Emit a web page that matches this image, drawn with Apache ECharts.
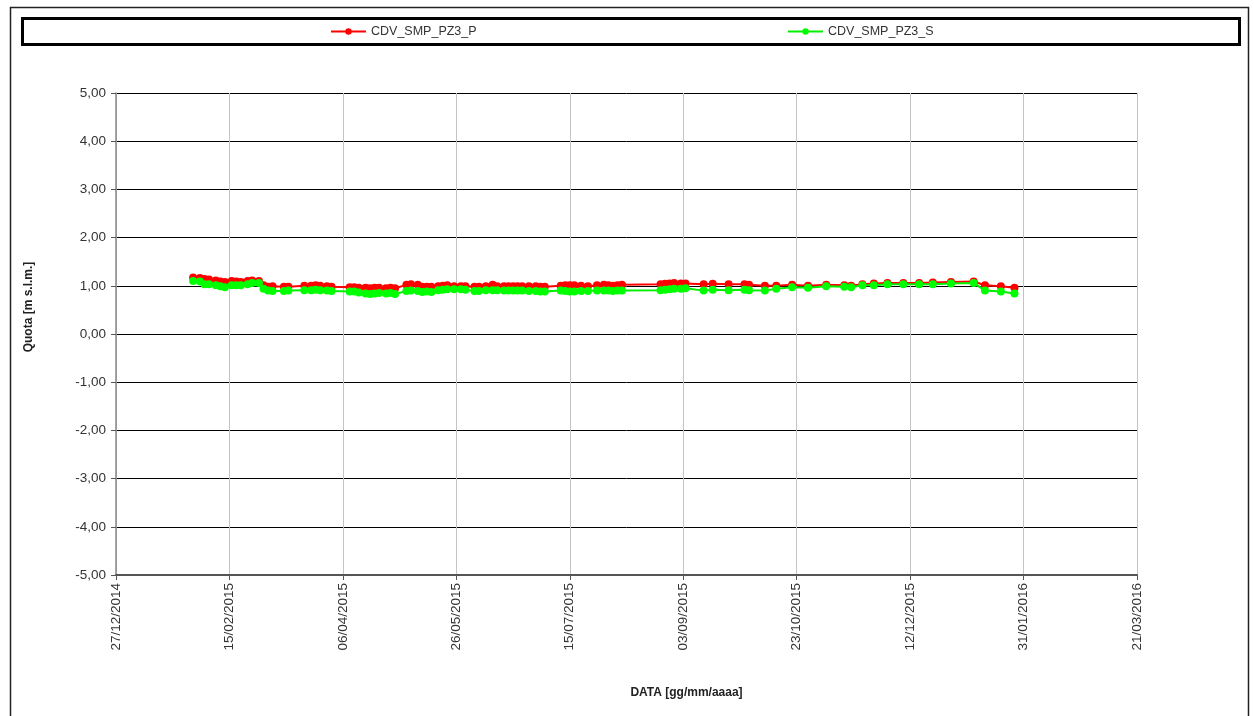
<!DOCTYPE html>
<html>
<head>
<meta charset="utf-8">
<script src="https://cdn.jsdelivr.net/npm/echarts@6/dist/echarts.min.js"></script>
<style>
html,body{margin:0;padding:0;background:#fff;}
#chart{width:1254px;height:716px;}
</style>
</head>
<body>
<div id="chart"></div>
<script>
// ---- Data ----
const seriesNames = ["CDV_SMP_PZ3_P", "CDV_SMP_PZ3_S"];
const dates = [
"2015-01-30","2015-02-02","2015-02-04","2015-02-06","2015-02-09","2015-02-11","2015-02-13","2015-02-16","2015-02-18","2015-02-20",
"2015-02-23","2015-02-25","2015-02-28","2015-03-02","2015-03-04","2015-03-06","2015-03-11","2015-03-13","2015-03-20","2015-03-23",
"2015-03-25","2015-03-27","2015-03-30","2015-04-01","2015-04-09","2015-04-11","2015-04-13","2015-04-16","2015-04-18","2015-04-20",
"2015-04-22","2015-04-25","2015-04-27","2015-04-29","2015-05-04","2015-05-06","2015-05-09","2015-05-11","2015-05-13","2015-05-15",
"2015-05-18","2015-05-20","2015-05-22","2015-05-25","2015-05-28","2015-05-30","2015-06-03","2015-06-05","2015-06-08","2015-06-11",
"2015-06-13","2015-06-16","2015-06-18","2015-06-20","2015-06-22","2015-06-24","2015-06-27","2015-06-30","2015-07-02","2015-07-04",
"2015-07-11","2015-07-13","2015-07-15","2015-07-17","2015-07-20","2015-07-23","2015-07-27","2015-07-30","2015-08-01","2015-08-03",
"2015-08-05","2015-08-07","2015-08-24","2015-08-26","2015-08-28","2015-08-30","2015-09-02","2015-09-04","2015-09-12","2015-09-16",
"2015-09-23","2015-09-30","2015-10-02","2015-10-09","2015-10-14","2015-10-21","2015-10-28","2015-11-05","2015-11-13","2015-11-16",
"2015-11-21","2015-11-26","2015-12-02","2015-12-09","2015-12-16","2015-12-22","2015-12-30","2016-01-09","2016-01-14","2016-01-21",
"2016-01-27"
];
const valuesP = [
1.17,1.16,1.14,1.13,1.11,1.09,1.08,1.10,1.09,1.08,
1.10,1.11,1.10,1.01,0.98,0.99,0.98,0.98,1.00,1.00,
1.01,1.00,0.99,0.98,0.97,0.97,0.96,0.96,0.95,0.96,
0.96,0.95,0.96,0.95,1.02,1.03,1.02,0.98,0.98,0.98,
0.99,1.00,1.01,0.99,0.99,0.99,0.98,0.98,0.99,1.02,
0.99,0.99,0.99,0.99,0.99,0.99,0.99,0.99,0.98,0.98,
1.00,1.01,1.01,1.01,1.00,0.99,1.01,1.02,1.01,1.00,
1.01,1.02,1.03,1.04,1.05,1.06,1.05,1.05,1.03,1.04,
1.03,1.03,1.02,1.00,1.00,1.02,1.00,1.02,1.01,1.00,
1.03,1.05,1.06,1.06,1.06,1.07,1.08,1.09,1.01,0.99,
0.96
];
const valuesS = [
1.10,1.09,1.03,1.03,1.01,0.99,0.97,1.01,1.01,1.01,
1.03,1.06,1.06,0.94,0.90,0.89,0.89,0.90,0.91,0.91,
0.92,0.91,0.90,0.89,0.88,0.88,0.86,0.84,0.83,0.84,
0.85,0.84,0.85,0.83,0.89,0.90,0.89,0.87,0.88,0.87,
0.91,0.92,0.93,0.93,0.93,0.92,0.89,0.89,0.91,0.91,
0.91,0.90,0.90,0.90,0.90,0.90,0.89,0.89,0.88,0.88,
0.90,0.89,0.88,0.88,0.89,0.89,0.90,0.90,0.90,0.89,
0.90,0.90,0.91,0.92,0.93,0.94,0.94,0.95,0.90,0.92,
0.91,0.92,0.91,0.90,0.94,0.97,0.96,0.99,0.98,0.97,
1.01,1.01,1.03,1.03,1.03,1.03,1.05,1.06,0.90,0.88,
0.84
];
// X axis: days counted from the first tick date, ticks every 50 days
const axisStartDate = "2014-12-27";
const xTickDays = 50;
const xMaxDays = 450;
const yMin = -5, yMax = 5, yStep = 1;
const xAxisTitle = "DATA [gg/mm/aaaa]";
const yAxisTitle = "Quota [m s.l.m.]";

// ---- helpers ----
const DAY = 86400000;
function toUTC(s){ const p = s.split("-").map(Number); return Date.UTC(p[0], p[1]-1, p[2]); }
const t0 = toUTC(axisStartDate);
function dayOffset(s){ return Math.round((toUTC(s) - t0) / DAY); }
function fmtDay(d){
  const dt = new Date(t0 + d * DAY);
  const dd = String(dt.getUTCDate()).padStart(2,"0");
  const mm = String(dt.getUTCMonth()+1).padStart(2,"0");
  return dd + "/" + mm + "/" + dt.getUTCFullYear();
}
const dataP = dates.map((d,i)=>[dayOffset(d), valuesP[i]]);
const dataS = dates.map((d,i)=>[dayOffset(d), valuesS[i]]);

const FONT = "'Liberation Sans', Arial, sans-serif";
const chart = echarts.init(document.getElementById("chart"), null, {renderer:"canvas"});
chart.setOption({
  animation: false,
  backgroundColor: "#ffffff",
  textStyle: {fontFamily: FONT},
  graphic: [
    {type:"rect", left:8, top:5, shape:{width:1238, height:740}, style:{fill:"none", stroke:"#222", lineWidth:1.5}, silent:true, z:-1},
    {type:"rect", left:21, top:17, shape:{width:1217, height:26}, style:{fill:"#fff", stroke:"#000", lineWidth:3}, silent:true, z:0}
  ],
  legend: [
    {data:[seriesNames[0]], left:325, top:20, itemWidth:35, itemHeight:8, itemGap:4,
     textStyle:{fontSize:12.5, color:"#333", fontFamily:FONT}, z:5},
    {data:[seriesNames[1]], left:782, top:20, itemWidth:35, itemHeight:8, itemGap:4,
     textStyle:{fontSize:12.5, color:"#333", fontFamily:FONT}, z:5}
  ],
  grid: {left:116, right:117, top:93, bottom:141, containLabel:false},
  xAxis: {
    type:"value", min:0, max:xMaxDays, interval:xTickDays,
    name: xAxisTitle, nameLocation:"middle", nameGap:112,
    nameTextStyle:{fontSize:12, fontWeight:"bold", color:"#222", fontFamily:FONT, padding:[0,0,0,120]},
    axisLine:{show:true, onZero:false, lineStyle:{color:"#555", width:2}},
    axisTick:{show:true, length:5, lineStyle:{color:"#555"}},
    axisLabel:{rotate:90, fontSize:13.5, color:"#333", margin:8, fontFamily:FONT, formatter:(v)=>fmtDay(v)},
    splitLine:{show:true, lineStyle:{color:"#c4c4c4", width:1}}
  },
  yAxis: {
    type:"value", min:yMin, max:yMax, interval:yStep,
    name: yAxisTitle, nameLocation:"middle", nameGap:81, nameRotate:90,
    nameTextStyle:{fontSize:12, fontWeight:"bold", color:"#222", fontFamily:FONT, padding:[0,0,0,54]},
    axisLine:{show:true, lineStyle:{color:"#888", width:1.5}},
    axisTick:{show:true, length:5, lineStyle:{color:"#555"}},
    axisLabel:{fontSize:13.5, color:"#333", margin:10, fontFamily:FONT, formatter:(v)=>v.toFixed(2).replace(".", ",")},
    splitLine:{show:true, lineStyle:{color:"#000", width:1}}
  },
  series: [
    {name:seriesNames[0], type:"line", data:dataP, color:"#ff0000",
     symbol:"circle", symbolSize:8, showAllSymbol:true,
     lineStyle:{color:"#ff0000", width:2}, itemStyle:{color:"#ff0000"}, z:3},
    {name:seriesNames[1], type:"line", data:dataS, color:"#00ff00",
     symbol:"circle", symbolSize:8, showAllSymbol:true,
     lineStyle:{color:"#00ee00", width:2}, itemStyle:{color:"#00ff00"}, z:4}
  ]
});
</script>
</body>
</html>
